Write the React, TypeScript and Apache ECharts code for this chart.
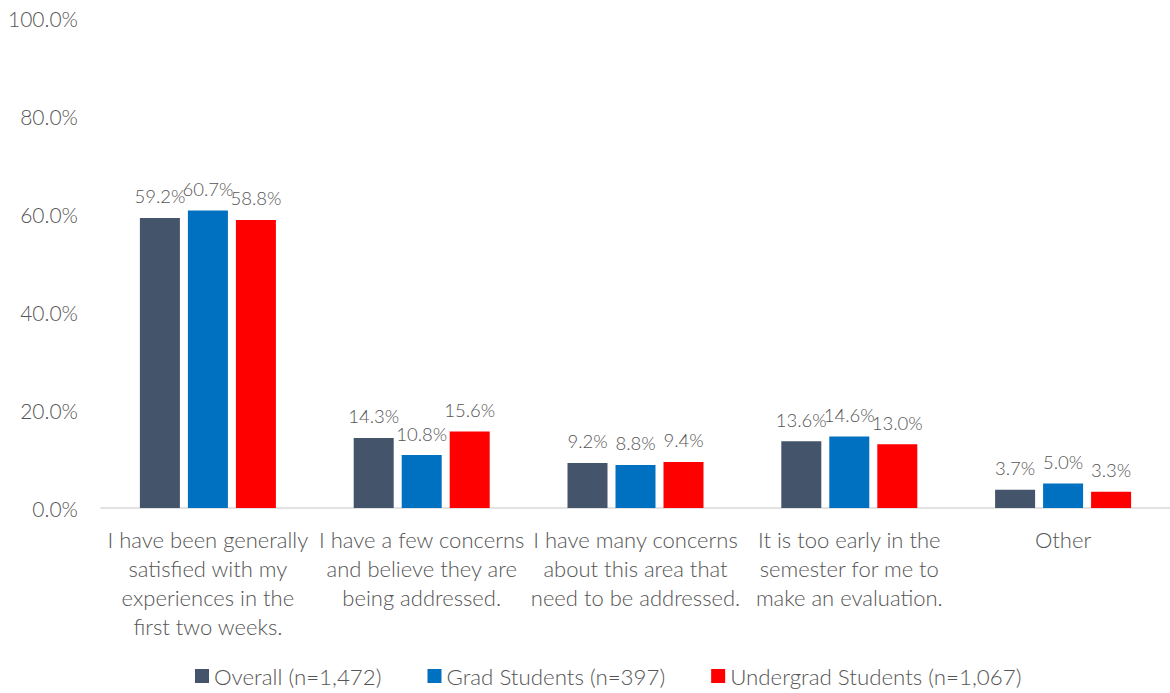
import React, { useEffect, useRef } from "react";
import * as echarts from "echarts";

const categories = [
  "I have been generally\nsatisfied with my\nexperiences in the\nfirst two weeks.",
  "I have a few concerns\nand believe they are\nbeing addressed.",
  "I have many concerns\nabout this area that\nneed to be addressed.",
  "It is too early in the\nsemester for me to\nmake an evaluation.",
  "Other",
];
const overall = [59.2, 14.3, 9.2, 13.6, 3.7];
const grad = [60.7, 10.8, 8.8, 14.6, 5.0];
const undergrad = [58.8, 15.6, 9.4, 13.0, 3.3];
const seriesNames = ["Overall (n=1,472)", "Grad Students (n=397)", "Undergrad Students (n=1,067)"];
const colors = ["#44546a", "#0070c0", "#ff0000"];

const FONT = "Lato, 'Open Sans', sans-serif";
const TEXT = "#555555";

export default function App() {
  const ref = useRef<HTMLDivElement>(null);
  useEffect(() => {
    if (!ref.current) return;
    const chart = echarts.init(ref.current, null, { renderer: "svg" });
    const mk = (name: string, data: number[], color: string) => ({
      name,
      type: "bar",
      data,
      barWidth: 40,
      barGap: "20%",
      itemStyle: { color },
      label: {
        show: true,
        position: "top",
        distance: 12,
        color: TEXT,
        fontSize: 18.5,
        fontWeight: 300,
        fontFamily: FONT,
        formatter: (p: any) => p.value.toFixed(1) + "%",
      },
    });
    chart.setOption({
      animation: false,
      textStyle: { fontFamily: FONT },
      grid: { left: 101, right: -9, top: 18, bottom: 185 },
      legend: {
        bottom: 1,
        left: 190,
        itemWidth: 14,
        itemHeight: 14,
        itemGap: 46,
        icon: "rect",
        textStyle: { color: TEXT, fontSize: 22.3, fontWeight: 300, fontFamily: FONT },
        data: seriesNames,
      },
      xAxis: {
        type: "category",
        data: categories,
        axisLine: { lineStyle: { color: "#d9d9d9", width: 1.5 } },
        axisTick: { show: false },
        axisLabel: {
          color: TEXT,
          fontSize: 22,
          fontWeight: 300,
          lineHeight: 29,
          margin: 17,
          interval: 0,
          fontFamily: FONT,
        },
      },
      yAxis: {
        type: "value",
        min: 0,
        max: 100,
        interval: 20,
        splitLine: { show: false },
        axisLine: { show: false },
        axisTick: { show: false },
        axisLabel: {
          color: TEXT,
          fontSize: 21,
          fontWeight: 300,
          margin: 23,
          fontFamily: FONT,
          formatter: (v: number) => v.toFixed(1) + "%",
        },
      },
      series: [
        mk(seriesNames[0], overall, colors[0]),
        mk(seriesNames[1], grad, colors[1]),
        mk(seriesNames[2], undergrad, colors[2]),
      ],
    });
    return () => chart.dispose();
  }, []);
  return <div ref={ref} style={{ width: 1170, height: 693, position: "absolute", left: 0, top: 0 }} />;
}
